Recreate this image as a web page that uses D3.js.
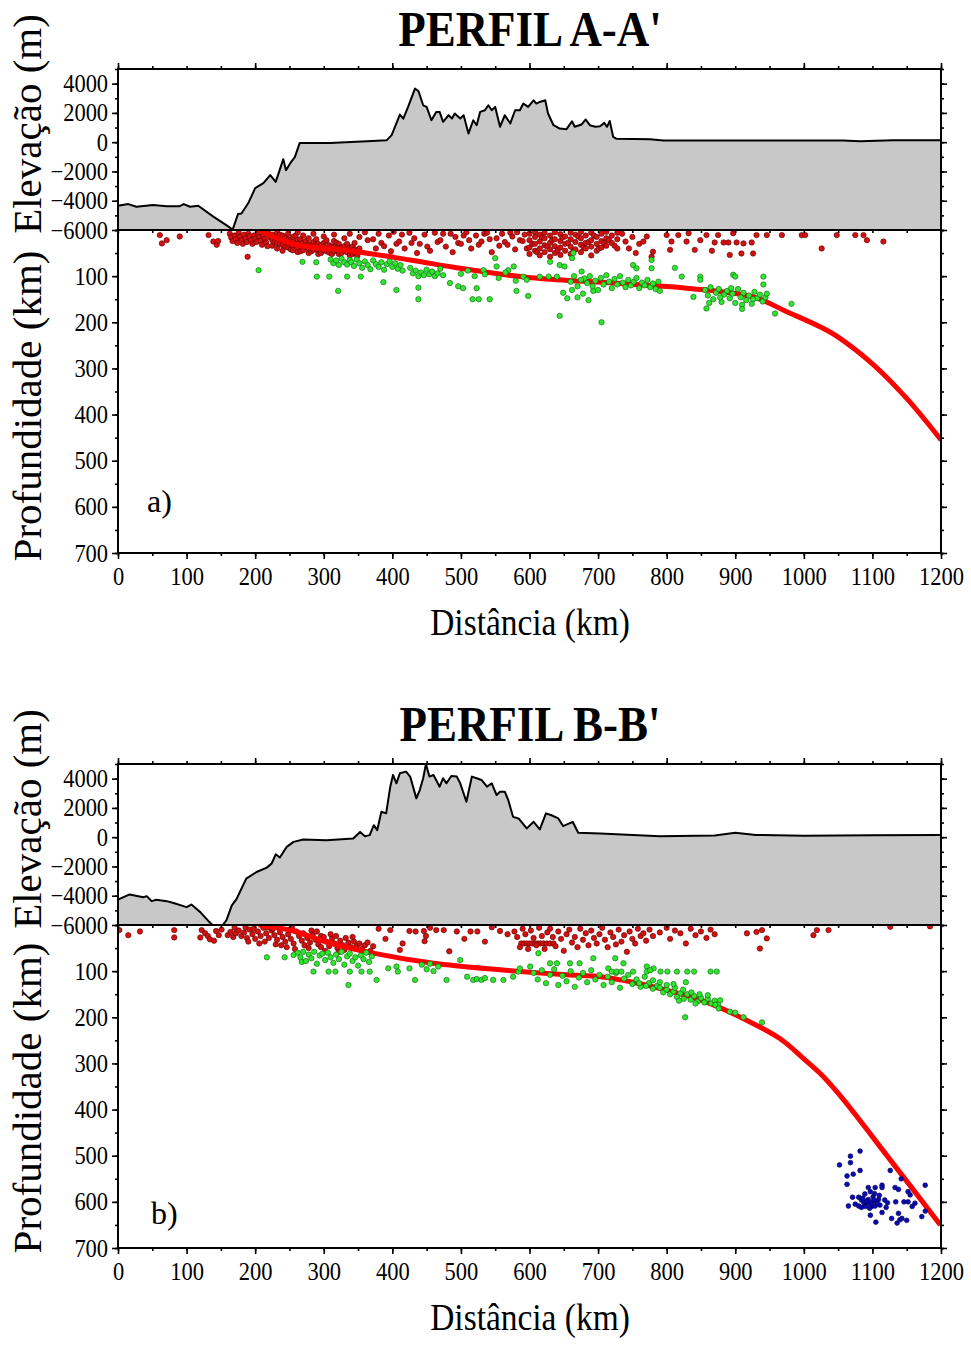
<!DOCTYPE html>
<html>
<head>
<meta charset="utf-8">
<script src="https://cdn.jsdelivr.net/npm/d3@7"></script>
<style>
  body { margin: 0; background: #fff; }
  svg { display: block; }
</style>
</head>
<body>
<svg id="chart" width="971" height="1345"></svg>
<script>
// Two seismic cross-sections (PERFIL A-A' / B-B'): topography on top,
// hypocentres + slab geometry below.

// ---- topography [km, m] ----
const elevA = [[0,-4340],[15,-4230],[27,-4410],[51,-4300],[71,-4370],[90,-4370],[96,-4230],[105,-4410],[117,-4340],[139,-5090],[159,-5700],[166,-5930],[168,-5870],[175,-4910],[180,-4870],[190,-4160],[200,-3140],[212,-2800],[222,-2250],[230,-2710],[241,-1160],[245,-1910],[251,-1450],[258,-1000],[265,-50],[309,-50],[363,70],[392,140],[399,480],[411,1890],[416,1610],[423,2410],[433,3660],[438,3500],[445,2520],[450,2410],[457,1500],[464,2070],[469,2070],[474,1390],[482,1840],[487,1620],[491,1960],[499,1620],[504,1840],[511,590],[518,1500],[523,1160],[528,2070],[535,2180],[540,2520],[545,2180],[550,2410],[557,1050],[564,1840],[572,1280],[579,2180],[586,2180],[591,2640],[598,2410],[606,2860],[610,2640],[615,2750],[623,2860],[627,1960],[635,1160],[644,930],[654,890],[662,1430],[666,1050],[676,1210],[682,1550],[688,1160],[696,1050],[703,1090],[709,1320],[713,1050],[717,1450],[722,360],[727,230],[776,200],[795,110],[1057,110],[1082,70],[1130,140],[1200,140]];
const elevB = [[0,-4270],[17,-3910],[37,-4100],[42,-4030],[49,-4370],[56,-4270],[71,-4370],[81,-4500],[100,-4780],[107,-4600],[120,-5120],[132,-5740],[139,-6050],[151,-6100],[158,-5690],[166,-4660],[173,-4210],[187,-2830],[202,-2380],[217,-2080],[224,-1800],[230,-1170],[236,-1390],[246,-660],[256,-320],[270,-160],[304,-210],[343,-90],[353,360],[360,70],[367,140],[373,820],[378,480],[384,1740],[391,1630],[397,3450],[401,4250],[406,3680],[411,4370],[420,4480],[426,4140],[435,2650],[440,3220],[445,4030],[449,5000],[454,4140],[460,4250],[469,3450],[474,4030],[479,3680],[486,4180],[494,4140],[499,3680],[508,2420],[516,4140],[523,4030],[530,3910],[538,3450],[545,3680],[552,2880],[557,3110],[564,3110],[569,2540],[576,1390],[584,1280],[596,600],[606,1050],[615,530],[624,1630],[632,1500],[642,1280],[649,760],[658,940],[663,1050],[671,300],[703,250],[790,70],[870,120],[900,300],[930,150],[1000,100],[1100,130],[1200,150]];

// ---- slab top [km, depth km] ----
const slabA = [[205,0],[260,32],[328,43],[426,65],[499,83],[586,101],[615,105],[732,116],[829,126],[926,145],[975,177],[1024,210],[1050,232],[1100,290],[1150,365],[1200,455]];
const slabB = [[205,0],[253,12],[309,39],[372,61],[460,83],[557,97],[654,108],[703,112],[751,124],[800,141],[858,167],[912,203],[965,246],[1000,290],[1024,322],[1053,370],[1126,509],[1199,650]];

// ---- hypocentres [km, depth km] ----
const redA = [[61,11],[64,29],[71,22],[90,14],[132,11],[139,25],[144,32],[146,24],
  [163,8],[165,16],[167,24],[170,12],[172,20],[174,28],[176,6],[178,15],[180,22],[182,30],[184,10],[186,18],[188,26],[189,58],[190,8],[192,14],[194,22],[196,30],[198,12],[200,19],[202,26],[204,6],[206,15],[208,23],[210,32],[212,11],[214,19],[216,27],[218,35],[220,8],[222,16],
  [225,10],[225,22],[225,34],[228,15],[228,27],[232,6],[232,18],[232,28],[232,40],[236,10],[236,30],[240,12],[240,24],[240,33],[240,45],[244,16],[244,36],[248,8],[248,20],[248,30],[248,38],[252,22],[252,42],[255,15],[255,26],[255,35],[255,44],[259,12],[259,34],[262,5],[262,22],[262,30],[262,40],[262,48],[266,20],[266,46],[270,12],[270,28],[270,36],[270,44],[274,24],[274,38],[278,18],[278,32],[278,40],[278,50],[282,30],[282,46],[285,8],[285,26],[285,35],[285,43],[289,20],[289,40],[292,30],[292,38],[292,46],[292,52],[296,34],[296,50],[300,14],[300,28],[300,36],[300,44],[304,22],[304,46],[308,33],[308,41],[308,49],[312,36],[312,52],[315,10],[315,24],[315,38],[315,46],[319,28],[319,44],[322,30],[322,40],[322,52],[326,38],[326,50],[330,18],[330,35],[330,44],[334,30],[334,48],[338,8],[338,38],[338,47],[338,55],[342,36],[342,52],[345,28],[345,42],[345,50],[349,44],[349,56],[352,15],[352,40],[352,48],
  [360,5],[364,22],[372,20],[376,40],[380,8],[384,28],[388,35],[395,12],[398,46],[402,4],[406,30],[410,25],[414,10],[418,40],[425,6],[428,28],[432,18],[436,50],[440,30],[447,10],[451,36],[455,45],[462,6],[466,26],[470,22],[474,8],[478,36],[485,8],[488,48],[492,15],[496,28],[500,30],[504,12],[508,5],[512,22],[515,40],[522,12],[526,32],[530,25],[534,8],[538,6],[542,20],[545,48],[552,18],[556,34],[560,8],[564,26],[568,32],[572,6],[575,14],[579,42],[582,5],[586,22],[590,24],[593,10],[596,40],
  [600,8],[600,22],[600,38],[600,52],[604,30],[608,4],[608,15],[608,30],[608,45],[611,48],[615,10],[615,25],[615,40],[615,55],[618,16],[622,6],[622,18],[622,33],[622,48],[626,36],[630,12],[630,28],[630,42],[630,58],[633,22],[637,5],[637,20],[637,35],[637,50],[641,44],[645,9],[645,24],[645,38],[645,54],[648,16],[652,14],[652,30],[652,45],[656,28],[660,6],[660,20],[660,36],[660,52],[664,46],[667,10],[667,26],[667,42],[671,14],[675,4],[675,18],[675,32],[675,48],[679,38],[682,12],[682,28],[682,40],[686,26],[690,6],[690,22],[690,36],[690,55],[694,12],[698,15],[698,30],[698,45],[701,40],[705,8],[705,24],[705,38],[709,28],[712,4],[712,18],[712,34],[716,22],[720,12],[720,28],[724,34],[728,6],[728,20],[728,40],
  [735,8],[740,25],[745,40],[750,15],[755,50],[760,30],[766,25],[771,14],[778,58],[780,47],[800,11],[805,43],[807,25],[817,11],[829,25],[832,7],[841,43],[849,22],[858,11],[866,45],[870,27],[875,11],[883,27],[890,27],[892,54],[897,7],[902,27],[909,51],[912,29],[924,27],[926,51],[931,11],[946,11],[968,11],[997,11],[1002,11],[1026,40],[1048,11],[1075,11],[1087,11],[1092,22],[1116,25]];

const greenA = [[205,87],[269,69],[289,70],[290,101],[308,101],[321,132],
  [310,64],[314,72],[318,66],[322,76],[326,62],[330,70],[334,75],[338,65],[334,101],[354,101],
  [340,70],[344,78],[348,64],[352,72],[356,82],[360,68],[364,76],[368,85],[372,66],[376,74],[380,80],[384,70],[388,86],[392,74],[396,68],[400,80],[404,72],[408,84],[412,76],[415,88],
  [387,113],[406,130],
  [426,82],[430,94],[434,88],[438,100],[442,92],[446,98],[450,86],[454,96],[458,90],[462,100],[466,94],[470,84],[474,98],
  [438,125],[438,150],[484,115],[496,122],[503,126],[523,126],[517,150],[526,150],[542,150],[533,87],[550,61],[552,79],[569,87],[577,79],[581,132],[591,101],[598,143],[596,108],
  [500,95],[510,88],[520,100],[535,96],[555,104],[565,92],[580,110],
  [615,101],[628,101],[640,101],[644,186],[630,69],[644,76],[651,79],[662,61],[664,50],[676,90],
  [649,136],[655,148],[662,130],[670,146],[678,138],[686,152],[693,132],[705,200],
  [680,105],[684,115],[688,100],[692,122],[696,110],[700,130],[704,104],[708,118],[712,98],[716,112],[720,126],[724,106],[728,118],[732,100],[736,114],[740,124],[744,108],[748,120],[752,112],[756,104],[760,126],[764,114],[768,120],[772,108],[776,124],[780,116],[784,128],[788,112],[790,132],[660,112],[665,100],[670,122],[675,108],
  [751,76],[756,83],[778,65],[778,83],[812,82],[822,101],[849,101],[849,108],[839,145],
  [856,130],[860,142],[864,124],[868,150],[872,136],[876,128],[880,156],[884,140],[888,132],[892,148],[896,138],[900,158],[904,128],[908,146],[912,136],[916,152],[920,142],[924,160],[928,134],[932,148],[936,140],[940,155],[944,146],[946,138],[862,158],[878,146],[894,126],[910,162],[926,150],
  [897,97],[900,101],[858,170],[910,171],[941,101],[941,118],[958,181],[982,160]];

const redB = [[2,11],[15,22],[32,14],[82,11],[82,27],[120,27],[122,11],[127,18],[131,24],[134,31],[140,34],[143,13],[147,22],[151,10],
  [160,22],[164,15],[168,26],[170,6],[172,18],[176,12],[180,24],[184,16],[186,5],[188,28],[190,36],[192,10],[196,20],[198,8],[200,30],[204,14],[206,40],[208,24],[212,6],[214,36],[216,18],[218,5],[220,28],[224,12],[226,8],[228,22],[230,42],[232,32],[234,6],[236,16],[238,44],[240,26],[244,36],[246,48],[248,20],[250,10],[252,30],[254,7],[256,40],[258,52],[260,14],[264,24],[268,34],[270,18],[272,44],[276,28],[278,50],[280,38],[282,12],[284,22],[288,32],[290,14],[292,42],[296,48],[296,24],[300,26],[302,56],[304,36],[308,46],[310,20],[312,30],[316,40],[318,24],[320,50],[322,58],[324,34],[328,44],[330,54],[332,28],[336,38],[340,48],[342,26],[344,36],[348,46],[352,40],[356,52],[360,44],[364,38],[368,56],[372,46],
  [380,8],[390,30],[397,11],[411,54],[415,40],[425,13],[434,14],[446,13],[447,35],[449,24],[455,6],[464,11],[475,11],[483,57],[494,14],[505,30],[514,14],[524,14],[535,36],[545,5],[557,13],[568,20],
  [588,40],[592,40],[596,40],[600,40],[604,40],[608,40],[612,40],[616,40],[620,40],[625,40],[630,40],[635,40],
  [578,14],[582,26],[586,48],[590,8],[594,20],[598,52],[602,12],[606,28],[610,44],[614,6],[618,24],[622,52],[626,16],[630,8],[634,26],[638,46],[642,14],[646,30],[650,56],[654,20],[658,10],[662,38],[666,26],[670,48],[674,8],[678,32],[682,18],[686,44],[690,12],[694,28],[698,40],[702,20],[706,6],[710,32],[714,48],[718,16],[722,26],[726,42],[730,10],[734,36],[738,22],[742,58],[746,14],[750,30],[754,40],[758,8],[762,24],[766,18],[770,34],
  [775,10],[780,24],[790,16],[800,6],[805,30],[812,12],[820,18],[828,40],[835,8],[842,22],[850,14],[858,28],[864,10],[870,20],
  [917,18],[931,15],[936,51],[939,11],[946,29],[1014,22],[1019,11],[1036,11],[1126,4],[1184,3]];

const greenB = [[217,70],[243,70],[256,65],[268,80],
  [262,60],[266,70],[270,58],[274,78],[278,64],[282,72],[286,58],[290,84],[294,66],[298,62],[302,76],[306,60],[310,70],[314,82],[318,64],[322,74],[326,58],[330,86],[334,68],[338,62],[342,78],[346,70],[350,88],[354,66],[358,74],[362,60],[366,80],[370,68],
  [285,101],[307,101],[317,101],[338,101],[355,101],[367,101],
  [336,130],[377,119],[394,94],[406,90],[408,101],[425,94],[433,119],[443,86],[450,96],[455,84],[460,100],[467,90],[479,119],[499,76],[509,112],[518,119],[523,117],[530,119],[535,115],[547,119],[562,119],[576,112],[584,101],[586,94],[601,90],
  [606,104],[612,118],[618,98],[624,126],[630,108],[636,96],[642,130],[648,110],[654,122],[660,100],[666,134],[672,114],[678,104],[684,124],[690,98],[696,118],[702,108],[708,130],[714,112],[720,124],[726,104],[732,136],[738,116],[744,108],[750,128],[756,118],[762,134],[768,112],[774,126],[780,120],[786,132],[790,124],
  [613,61],[630,83],[640,83],[659,83],[673,83],[693,72],[725,72],[737,83],[771,90],[781,94],
  [760,126],[770,132],[780,138],[790,136],[795,146],[800,140],[805,150],[810,144],[815,156],[820,148],[825,160],[830,150],[835,162],[840,154],[845,166],[850,158],[855,168],[860,160],[865,170],[870,164],[875,172],[800,130],[812,136],[824,140],[836,146],[848,150],[860,152],[818,164],[842,170],[828,124],[810,128],
  [715,94],[720,101],[727,101],[734,101],[751,101],[771,101],[776,98],[791,101],[801,101],[815,101],[830,101],[840,101],[864,101],[873,101],
  [827,200],[892,188],[900,190],[912,200],[939,211],[871,173],[876,181],[878,163]];

const blueB = [[1052,520],[1068,501],[1068,515],[1082,490],[1063,544],[1063,562],[1072,540],[1082,532],[1071,590],[1065,609],[1094,569],[1097,578],[1089,583],[1104,569],[1101,589],[1109,595],[1094,595],[1084,596],[1080,590],[1075,605],[1080,609],[1084,612],[1089,607],[1094,603],[1099,610],[1104,609],[1106,600],[1111,607],[1097,629],[1105,644],[1114,564],[1114,569],[1114,623],[1122,602],[1126,532],[1133,569],[1138,573],[1134,600],[1128,636],[1138,625],[1140,639],[1143,636],[1142,550],[1152,578],[1155,585],[1152,600],[1162,603],[1172,632],[1177,564],[1177,620],
  [1087,600],[1092,598],[1099,602],[1102,596],[1107,604],[1090,610],[1096,614],[1086,592],[1103,582],[1110,586],[1118,596],[1120,612],[1146,600],[1150,640],[1136,646],[1158,610]];

// ---- ticks ----
const xMajor = d3.range(0, 1201, 100);
const xMinor = d3.range(0, 1201, 50);
const xTopMajor = d3.range(0, 1201, 200);
const elevMajor = d3.range(-6000, 4001, 2000);
const elevMinor = d3.range(-6000, 5001, 1000);
const depthMajor = d3.range(100, 701, 100);
const depthMinor = d3.range(0, 701, 50);

const FONT = '"Liberation Serif", "Times New Roman", serif';
const X0 = 118, X1 = 941;

const panels = [
  { top: 69,  title: "PERFIL A-A'", tag: 'a)', elev: elevA, slab: slabA, red: redA, green: greenA, blue: [],
    titleY: 46,  xlabY: 635,  tagX: 147, tagY: 512,  elevLabY: 124, depLabY: 406 },
  { top: 764, title: "PERFIL B-B'", tag: 'b)', elev: elevB, slab: slabB, red: redB, green: greenB, blue: blueB,
    titleY: 741, xlabY: 1330, tagX: 151, tagY: 1224, elevLabY: 819, depLabY: 1098 },
];

const svg = d3.select('#chart');
const defs = svg.append('defs');
const fmt = d => d < 0 ? '\u2212' + (-d) : String(d);

function styleAxis(s) {
  s.select('.domain').remove();
  s.attr('font-family', FONT).attr('font-size', 25);
  s.selectAll('.tick line').attr('stroke', '#000').attr('stroke-width', 1.6);
  s.selectAll('.tick text').attr('fill', '#000').attr('transform', 'scale(0.9,1)');
}

function drawPanel(p, i) {
  const mid = p.top + 161, bot = p.top + 484;
  const x = d3.scaleLinear().domain([0, 1200]).range([X0, X1]);
  const yE = d3.scaleLinear().domain([-6000, 5000]).range([mid, p.top]);
  const yD = d3.scaleLinear().domain([0, 700]).range([mid, bot]);
  const g = svg.append('g');

  defs.append('clipPath').attr('id', 'ce' + i).append('rect')
    .attr('x', X0).attr('y', p.top).attr('width', X1 - X0).attr('height', mid - p.top);
  defs.append('clipPath').attr('id', 'cd' + i).append('rect')
    .attr('x', X0).attr('y', mid).attr('width', X1 - X0).attr('height', bot - mid);

  // topography
  const ge = g.append('g').attr('clip-path', `url(#ce${i})`);
  ge.append('path').datum(p.elev)
    .attr('d', d3.area().x(d => x(d[0])).y0(mid).y1(d => yE(d[1])))
    .attr('fill', '#c8c8c8');
  ge.append('path').datum(p.elev)
    .attr('d', d3.line().x(d => x(d[0])).y(d => yE(d[1])))
    .attr('fill', 'none').attr('stroke', '#000').attr('stroke-width', 2)
    .attr('stroke-linejoin', 'round');

  // section
  const gd = g.append('g').attr('clip-path', `url(#cd${i})`);
  const dots = (data, fill, stroke, r) => gd.append('g').selectAll('circle').data(data).join('circle')
    .attr('cx', d => x(d[0])).attr('cy', d => yD(d[1])).attr('r', r)
    .attr('fill', fill).attr('stroke', stroke).attr('stroke-width', 0.6);
  dots(p.red, '#d41010', '#5a0000', 2.7);
  gd.append('path').datum(p.slab)
    .attr('d', d3.line().curve(d3.curveCatmullRom.alpha(0.5)).x(d => x(d[0])).y(d => yD(d[1])))
    .attr('fill', 'none').attr('stroke', '#ff0000').attr('stroke-width', 5);
  dots(p.green, '#2ee62e', '#106010', 2.7);
  dots(p.blue, '#0a0ab4', '#000050', 2.4);

  // axes
  g.append('g').attr('transform', `translate(${X0},0)`)
    .call(d3.axisLeft(yE).tickValues(elevMinor).tickSize(3).tickFormat('')).call(styleAxis);
  g.append('g').attr('transform', `translate(${X0},0)`)
    .call(d3.axisLeft(yE).tickValues(elevMajor).tickSize(6).tickPadding(5).tickFormat(fmt)).call(styleAxis);
  g.append('g').attr('transform', `translate(${X1},0)`)
    .call(d3.axisRight(yE).tickValues(elevMinor).tickSize(3).tickFormat('')).call(styleAxis);
  g.append('g').attr('transform', `translate(${X1},0)`)
    .call(d3.axisRight(yE).tickValues(elevMajor).tickSize(6).tickFormat('')).call(styleAxis);
  g.append('g').attr('transform', `translate(0,${p.top})`)
    .call(d3.axisTop(x).tickValues(xMinor).tickSize(3).tickFormat('')).call(styleAxis);
  g.append('g').attr('transform', `translate(0,${p.top})`)
    .call(d3.axisTop(x).tickValues(xTopMajor).tickSize(6).tickFormat('')).call(styleAxis);
  g.append('g').attr('transform', `translate(0,${mid})`)
    .call(d3.axisBottom(x).tickValues(xMinor).tickSize(3).tickFormat('')).call(styleAxis);

  g.append('g').attr('transform', `translate(${X0},0)`)
    .call(d3.axisLeft(yD).tickValues(depthMinor).tickSize(3).tickFormat('')).call(styleAxis);
  g.append('g').attr('transform', `translate(${X0},0)`)
    .call(d3.axisLeft(yD).tickValues(depthMajor).tickSize(6).tickPadding(5).tickFormat(fmt)).call(styleAxis);
  g.append('g').attr('transform', `translate(${X1},0)`)
    .call(d3.axisRight(yD).tickValues(depthMinor).tickSize(3).tickFormat('')).call(styleAxis);
  g.append('g').attr('transform', `translate(${X1},0)`)
    .call(d3.axisRight(yD).tickValues(depthMajor).tickSize(6).tickFormat('')).call(styleAxis);
  g.append('g').attr('transform', `translate(0,${bot})`)
    .call(d3.axisBottom(x).tickValues(xMinor).tickSize(3).tickFormat('')).call(styleAxis);
  g.append('g').attr('transform', `translate(0,${bot})`)
    .call(d3.axisBottom(x).tickValues(xMajor).tickSize(6).tickPadding(8).tickFormat(fmt)).call(styleAxis);

  // frames
  g.append('rect').attr('x', X0).attr('y', p.top).attr('width', X1 - X0).attr('height', mid - p.top)
    .attr('fill', 'none').attr('stroke', '#000').attr('stroke-width', 2);
  g.append('path').attr('d', `M${X0},${mid}V${bot}H${X1}V${mid}`)
    .attr('fill', 'none').attr('stroke', '#000').attr('stroke-width', 2);

  // text
  g.append('text').attr('transform', `translate(530,${p.titleY}) scale(0.9,1)`)
    .attr('text-anchor', 'middle').attr('font-family', FONT).attr('font-weight', 'bold')
    .attr('font-size', 50).text(p.title);
  g.append('text').attr('transform', `translate(530,${p.xlabY}) scale(0.88,1)`)
    .attr('text-anchor', 'middle').attr('font-family', FONT).attr('font-size', 38).text('Distância (km)');
  g.append('text').attr('transform', `translate(41,${p.elevLabY}) rotate(-90)`)
    .attr('text-anchor', 'middle').attr('font-family', FONT).attr('font-size', 41).text('Elevação (m)');
  g.append('text').attr('transform', `translate(41,${p.depLabY}) rotate(-90)`)
    .attr('text-anchor', 'middle').attr('font-family', FONT).attr('font-size', 41).text('Profundidade (km)');
  g.append('text').attr('x', p.tagX).attr('y', p.tagY)
    .attr('font-family', FONT).attr('font-size', 32).text(p.tag);
}

panels.forEach(drawPanel);
</script>
</body>
</html>
